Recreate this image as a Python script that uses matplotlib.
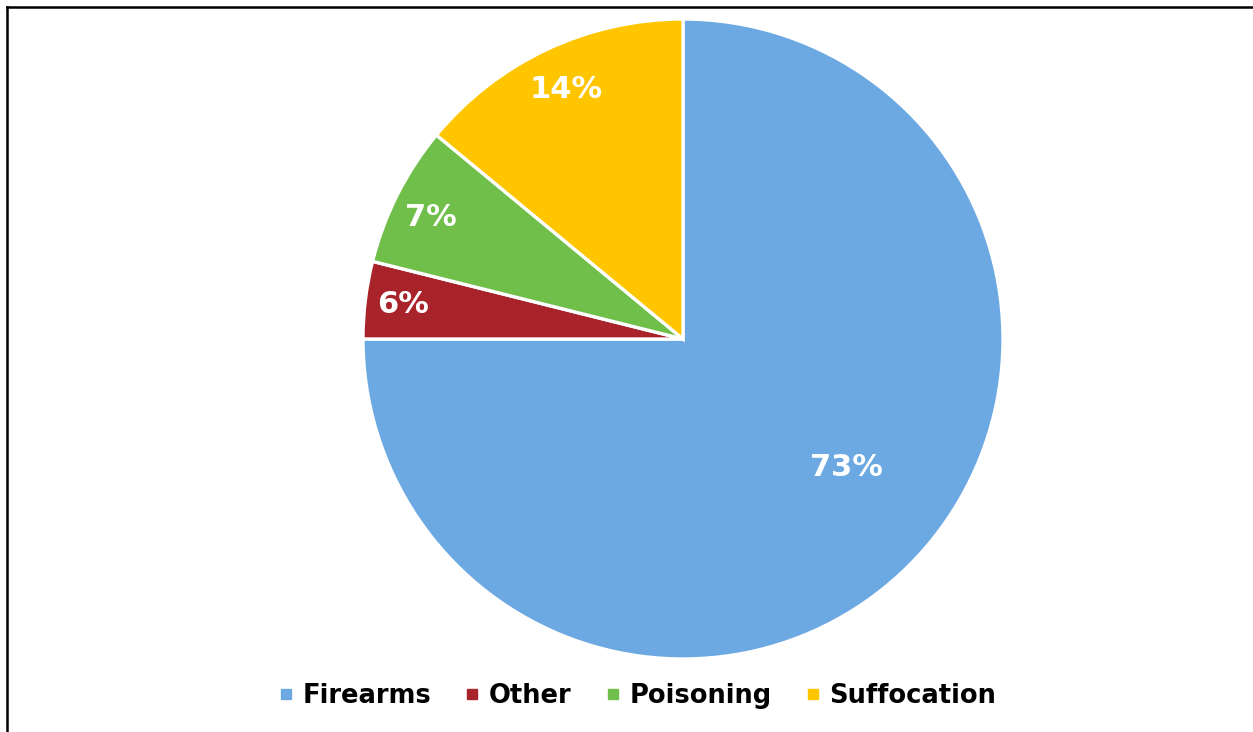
import numpy as np
import matplotlib.pyplot as plt
from matplotlib.lines import Line2D

# shares; printed labels as shown on the chart
categories = ["Firearms", "Other", "Poisoning", "Suffocation"]
shares = [75.0, 3.9, 7.1, 14.0]
pct_labels = ["73%", "6%", "7%", "14%"]
colors = ["#6CA9E2", "#A8232A", "#6FBF4A", "#FFC600"]

W, H = 1253, 732
fig = plt.figure(figsize=(W / 100, H / 100), dpi=100)
ax = fig.add_axes([0, 0, 1, 1])

cx, cy, r = 683, H - 339, 320
wedges, _ = ax.pie(
    shares,
    colors=colors,
    startangle=90,
    counterclock=False,
    center=(cx, cy),
    radius=r,
    wedgeprops=dict(edgecolor="white", linewidth=2.4),
    frame=True,
)
ax.set_xlim(0, W)
ax.set_ylim(0, H)
ax.set_aspect("equal")
ax.axis("off")

# label placement: fraction of radius and angle nudge per wedge
label_r = [0.65, 0.88, 0.875, 0.86]
label_nudge = [7, 0, 1, 0]
for w, txt, lr, nd in zip(wedges, pct_labels, label_r, label_nudge):
    ang = np.deg2rad((w.theta1 + w.theta2) / 2 + nd)
    ax.text(cx + lr * r * np.cos(ang), cy + lr * r * np.sin(ang), txt,
            ha="center", va="center", color="white", fontsize=22,
            fontweight="bold", family="DejaVu Sans")

handles = [Line2D([], [], marker="s", linestyle="", markersize=7.5,
                  markerfacecolor=c, markeredgecolor=c) for c in colors]
fig.legend(handles, categories, loc="center", ncol=4, frameon=False,
           bbox_to_anchor=(637 / W, 1 - 696 / H),
           prop=dict(family="DejaVu Sans", weight="bold", size=18.5),
           handlelength=0.6, handletextpad=0.35, columnspacing=1.3)

# outer frame, only top and left edges visible
fig.add_artist(Line2D([7 / W, 7 / W], [0, 1 - 7 / H], color="black",
                      linewidth=1.8, transform=fig.transFigure))
fig.add_artist(Line2D([7 / W, 1], [1 - 7 / H, 1 - 7 / H], color="black",
                      linewidth=1.8, transform=fig.transFigure))

fig.savefig("out.png", dpi=100)
